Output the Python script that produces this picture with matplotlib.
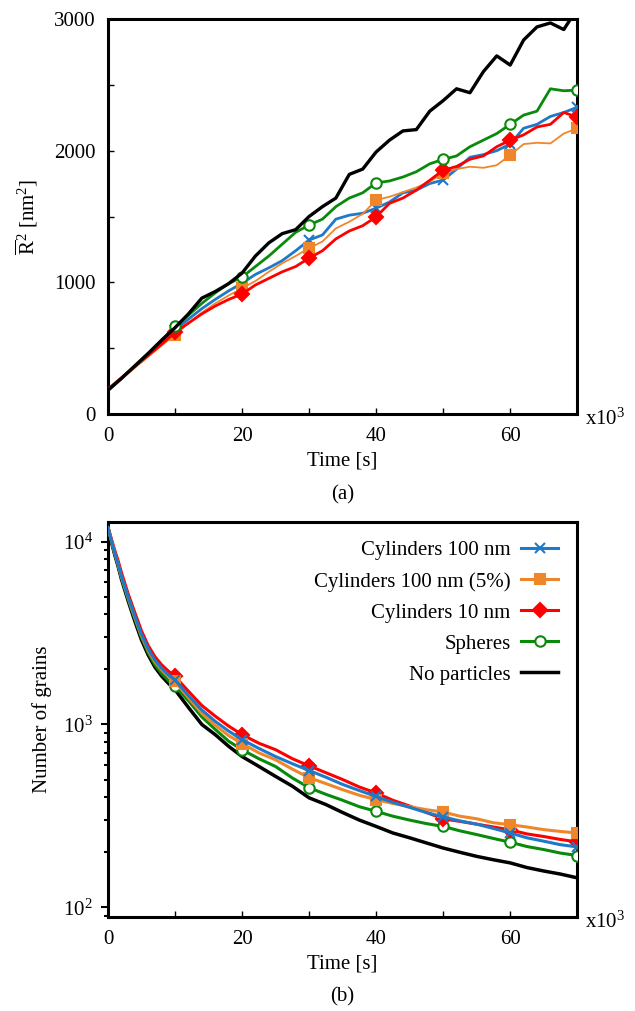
import numpy as np
import matplotlib.pyplot as plt
from matplotlib.ticker import MultipleLocator, LogLocator, NullFormatter

# ==========================================
# Fonts
# ==========================================
plt.rcParams['font.family'] = ['Liberation Serif', 'DejaVu Serif']
plt.rcParams['mathtext.fontset'] = 'custom'
plt.rcParams['mathtext.rm'] = 'Liberation Serif'
plt.rcParams['mathtext.it'] = 'Liberation Serif:italic'
plt.rcParams['mathtext.bf'] = 'Liberation Serif:bold'
plt.rcParams['font.size'] = 15

# ==========================================
# Data (time in units of 10^3 s)
# ==========================================
labels = ['Cylinders 100 nm', 'Cylinders 100 nm (5%)', 'Cylinders 10 nm', 'Spheres', 'No particles']

# (a) mean squared grain radius [nm^2]
t_a = np.arange(0, 71, 2)
r2_cyl100 = [180, 270, 360, 450, 545, 640, 720, 800, 870, 935, 993, 1060, 1110, 1165, 1240, 1321,
             1360, 1480, 1510, 1525, 1563, 1610, 1680, 1700, 1750, 1777, 1860, 1950, 1970, 2000,
             2050, 2170, 2200, 2260, 2290, 2330]
r2_cyl100_5 = [180, 265, 350, 435, 520, 600, 690, 770, 840, 900, 955, 1010, 1080, 1145, 1200, 1260,
               1310, 1410, 1460, 1520, 1625, 1650, 1685, 1720, 1765, 1828, 1860, 1878, 1870, 1890,
               1966, 2050, 2060, 2055, 2130, 2170]
r2_cyl10 = [190, 275, 360, 445, 530, 620, 690, 760, 820, 870, 911, 980, 1030, 1080, 1120, 1184,
            1240, 1330, 1390, 1430, 1497, 1600, 1640, 1700, 1775, 1852, 1880, 1935, 1960, 2030,
            2080, 2120, 2180, 2200, 2290, 2255]
r2_spheres = [180, 270, 365, 460, 560, 665, 750, 840, 920, 990, 1040, 1120, 1200, 1290, 1380, 1435,
              1480, 1575, 1640, 1680, 1755, 1770, 1800, 1840, 1900, 1934, 1960, 2030, 2080, 2130,
              2200, 2270, 2300, 2470, 2455, 2460]
r2_none = [180, 270, 365, 460, 560, 655, 760, 880, 930, 990, 1070, 1200, 1300, 1370, 1400, 1500,
           1575, 1640, 1820, 1860, 1990, 2080, 2150, 2160, 2300, 2380, 2470, 2440, 2600, 2720,
           2650, 2840, 2940, 2970, 2920, 3080]

# (b) number of grains
t_b = [0, 0.5, 1, 1.5, 2, 3, 4, 5, 6, 7, 8, 9, 10, 12, 14, 16, 18, 20, 22.5, 25, 27.5, 30,
       32.5, 35, 37.5, 40, 42.5, 45, 47.5, 50, 52.5, 55, 57.5, 60, 62.5, 65, 67.5, 70]
n_cyl100 = [11900, 10200, 8700, 7600, 6500, 5000, 3930, 3120, 2590, 2250, 2030, 1870, 1750,
            1440, 1200, 1040, 920, 826, 740, 668, 610, 560, 515, 470, 435, 404, 375, 352, 330,
            312, 297, 285, 270, 255, 240, 230, 220, 214]
n_cyl100_5 = [11900, 10200, 8700, 7550, 6450, 4950, 3870, 3060, 2540, 2200, 1990, 1840, 1718,
              1400, 1150, 990, 870, 786, 700, 641, 570, 512, 475, 440, 410, 388, 370, 355, 342,
              332, 315, 305, 290, 283, 275, 266, 260, 255]
n_cyl10 = [12000, 10400, 9000, 7900, 6800, 5200, 4100, 3250, 2700, 2350, 2120, 1960, 1830,
           1520, 1270, 1110, 980, 880, 790, 728, 650, 594, 545, 500, 455, 422, 385, 358, 330,
           305, 295, 285, 275, 265, 252, 244, 235, 228]
n_spheres = [11900, 10100, 8600, 7450, 6350, 4850, 3780, 2990, 2470, 2120, 1900, 1740, 1614,
             1350, 1100, 940, 810, 728, 650, 589, 510, 451, 415, 385, 355, 335, 315, 300, 287,
             277, 262, 250, 238, 227, 215, 207, 198, 192]
n_none = [11900, 10000, 8500, 7350, 6250, 4750, 3680, 2900, 2400, 2060, 1840, 1680, 1550,
          1240, 1000, 880, 760, 668, 590, 520, 460, 397, 365, 330, 300, 277, 255, 240, 225,
          211, 200, 190, 182, 175, 165, 158, 152, 145]

marker_times = [10, 20, 30, 40, 50, 60, 70]

# ==========================================
# Styles
# ==========================================
colors = ['#1f78c8', '#f0862a', '#ff0000', '#0a8a0a', '#000000']
markers = ['x', 's', 'D', 'o', None]
msizes = [6.5, 7, 7, 7.5, 0]
lw_a = [2.0, 1.3, 2.0, 2.0, 2.4]
lw_b = [2.2, 2.2, 2.2, 2.2, 2.5]


def marker_idx(t):
    return [i for i, v in enumerate(t) if v in marker_times]


def style_axis(ax):
    for s in ax.spines.values():
        s.set_linewidth(2.2)
    ax.set_xlim(0, 70)
    ax.xaxis.set_major_locator(MultipleLocator(20))
    ax.xaxis.set_minor_locator(MultipleLocator(10))
    ax.tick_params(axis='x', which='both', direction='in', length=4, width=1, pad=9)
    ax.set_xlabel('Time [s]', labelpad=4)


fig = plt.figure(figsize=(6.35, 10.11), dpi=100)
ax1 = fig.add_axes([0.170, 0.5905, 0.739, 0.3907])
ax2 = fig.add_axes([0.170, 0.0925, 0.739, 0.3912])

# ---------- (a) ----------
series_a = [r2_cyl100, r2_cyl100_5, r2_cyl10, r2_spheres, r2_none]
idx_a = marker_idx(list(t_a))
for k in [4, 3, 1, 0, 2]:
    mfc = 'white' if markers[k] == 'o' else colors[k]
    ax1.plot(t_a, series_a[k], color=colors[k], lw=lw_a[k], marker=markers[k], ms=msizes[k],
             mfc=mfc, mec=colors[k], mew=1.5, markevery=idx_a, label=labels[k], zorder=3 + k * 0.1)

style_axis(ax1)
ax1.set_ylim(0, 3000)
ax1.yaxis.set_major_locator(MultipleLocator(1000))
ax1.yaxis.set_minor_locator(MultipleLocator(500))
ax1.tick_params(axis='y', which='both', direction='in', length=4, width=1, pad=9)
ax1.set_ylabel(r'$\overline{\mathrm{R}}^{2}$ [nm$^{2}$]', labelpad=10)
ax1.text(1.017, -0.012, r'x10$^{3}$', transform=ax1.transAxes, ha='left', va='center')
ax1.text(0.5, -0.205, '(a)', transform=ax1.transAxes, ha='center', va='center')

# ---------- (b) ----------
series_b = [n_cyl100, n_cyl100_5, n_cyl10, n_spheres, n_none]
idx_b = marker_idx(t_b)
lines = []
for k in range(5):
    mfc = 'white' if markers[k] == 'o' else colors[k]
    ln, = ax2.plot(t_b, series_b[k], color=colors[k], lw=lw_b[k], marker=markers[k], ms=msizes[k],
                   mfc=mfc, mec=colors[k], mew=1.5, markevery=idx_b, label=labels[k],
                   zorder=3 + (4 - k) * 0.1)
    lines.append(ln)

style_axis(ax2)
ax2.set_yscale('log')
ax2.set_ylim(88, 12800)
ax2.yaxis.set_major_locator(LogLocator(base=10))
ax2.yaxis.set_minor_locator(LogLocator(base=10, subs=np.arange(2, 10)))
ax2.yaxis.set_minor_formatter(NullFormatter())
ax2.tick_params(axis='y', which='major', direction='out', length=5, width=1.5, pad=6)
ax2.tick_params(axis='y', which='minor', direction='out', length=3, width=1.5)
ax2.set_ylabel('Number of grains', labelpad=8)
ax2.text(1.017, -0.012, r'x10$^{3}$', transform=ax2.transAxes, ha='left', va='center')
ax2.text(0.5, -0.201, '(b)', transform=ax2.transAxes, ha='center', va='center')

ax2.legend(handles=lines, loc='upper right', frameon=False, markerfirst=False,
           handlelength=1.8, labelspacing=0.55, borderaxespad=0.5, handletextpad=0.5,
           fontsize=15)

plt.savefig('out.png', dpi=100)
